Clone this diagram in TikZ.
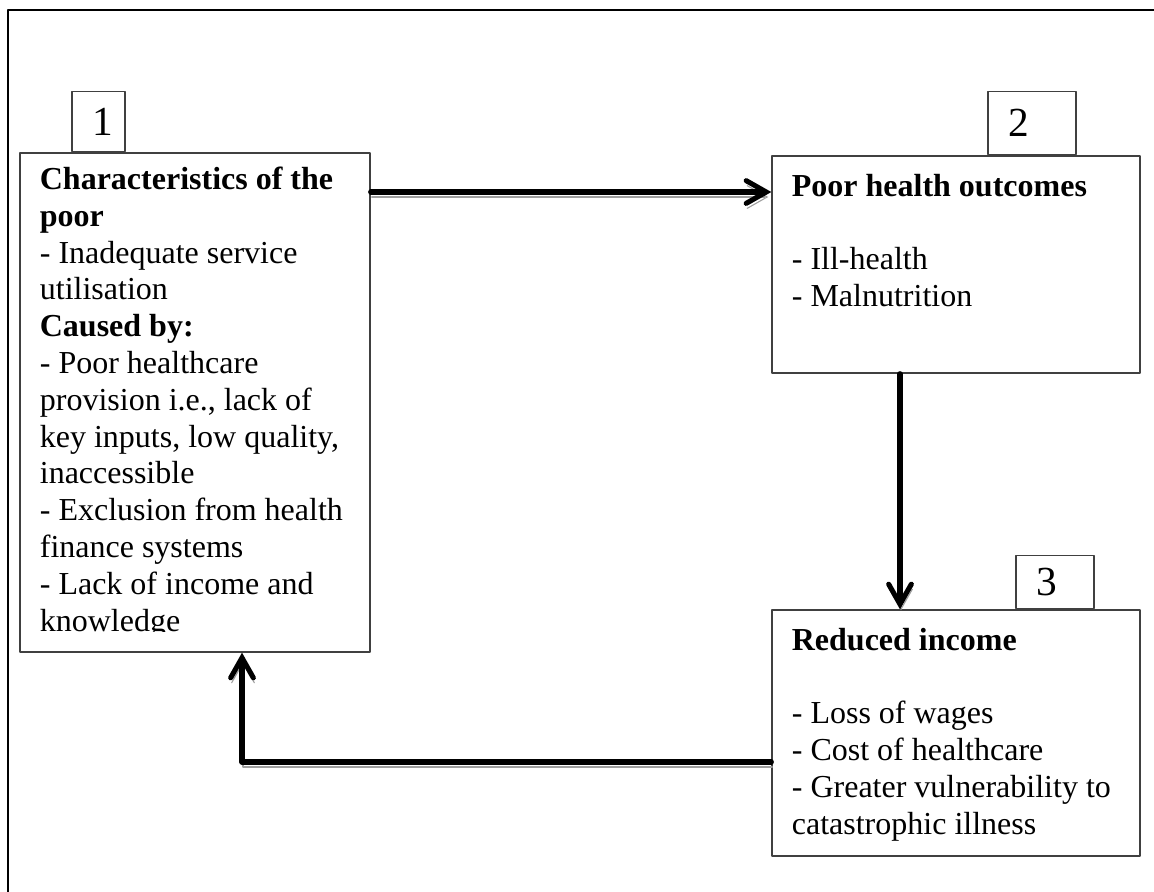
\documentclass[tikz,border=0pt]{standalone}
\usepackage{fontspec}
\setmainfont{Liberation Serif}
\usetikzlibrary{arrows.meta,positioning}
\tikzset{
  boxnode/.style={rectangle,draw=black!75,line width=0.5pt,inner sep=0pt},
  numnode/.style={rectangle,draw=black!75,line width=0.5pt,inner ysep=0pt,inner xsep=7.5pt,
    align=left,font=\fontsize{15.5}{17}\selectfont},
  textnode/.style={anchor=north west,inner sep=0pt,align=left,font=\fontsize{12}{13.8}\selectfont},
  flow/.style={line width=1.9pt,-{Straight Barb[length=7.5pt,width=8.5pt,line cap=round]},
    preaction={draw=black!38,transform canvas={shift={(1,5)}}}},
  every picture/.style={line cap=round,line join=round}
}

\begin{document}
\begin{tikzpicture}[x=0.375pt,y=-0.375pt]
    \useasboundingbox (0,0) rectangle (1154,891);
    \draw[line width=0.8pt] (8,10) rectangle (1170,905);

    % boxes
    \node[boxnode,minimum width=131.25pt,minimum height=187.1pt] (box1) at (195,402.5) {};
    \node[boxnode,minimum width=138pt,minimum height=81.4pt] (box2) at (956,264.5) {};
    \node[boxnode,minimum width=138pt,minimum height=92.25pt] (box3) at (956,733) {};

    % numbers
    \node[numnode,text width=4.9pt,minimum height=22.5pt,above right=0pt and 19.5pt of box1.north west] (num1) {1};
    \node[numnode,text width=18pt,minimum height=23.6pt,above right=0pt and 81pt of box2.north west] (num2) {2};
    \node[numnode,text width=14.25pt,minimum height=19.9pt,above right=0pt and 91.5pt of box3.north west] (num3) {3};

    % texts
    \begin{scope}
      \clip (box1.north west) rectangle ([yshift=8pt]box1.south east);
      \node[textnode] (txt1) at ([shift={(20,14)}]box1.north west)
        {\textbf{Characteristics of the}\\\textbf{poor}\\- Inadequate service\\utilisation\\
         \textbf{Caused by:}\\- Poor healthcare\\provision i.e., lack of\\key inputs, low quality,\\
         inaccessible\\- Exclusion from health\\finance systems\\- Lack of income and\\knowledge};
    \end{scope}
    \node[textnode] (txt2) at ([shift={(20,18)}]box2.north west)
      {\textbf{Poor health outcomes}\\[13.8pt]- Ill-health\\- Malnutrition};
    \node[textnode] (txt3) at ([shift={(20,18)}]box3.north west)
      {\textbf{Reduced income}\\[13.8pt]- Loss of wages\\- Cost of healthcare\\
       - Greater vulnerability to\\catastrophic illness};

    % arrows
    \draw[flow] (box1.east |- 0,192) -- (box2.west |- 0,192);
    \draw[flow] (box2.south -| 900,0) -- (box3.north -| 900,0);
    \draw[flow] (box3.west |- 0,762) -| (box1.south -| 242,0);
\end{tikzpicture}
\end{document}
